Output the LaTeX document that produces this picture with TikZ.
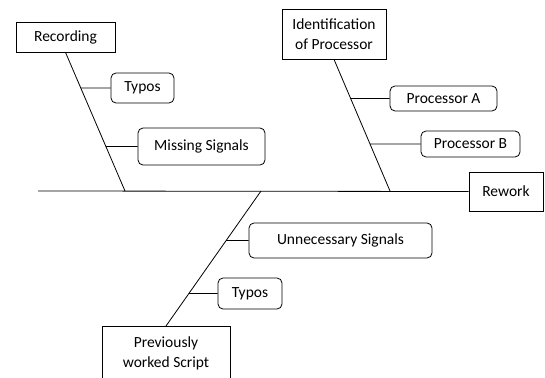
\documentclass[tikz,border=0pt]{standalone}
\usepackage{fontspec}
\setmainfont{Carlito}
\begin{document}
\begin{tikzpicture}[x=1pt,y=-1pt,
    cause/.style={draw,line width=0.8pt,inner sep=0pt,align=center,font=\fontsize{15.5}{20}\selectfont},
    sub/.style={cause,rounded corners=5pt}]
    \useasboundingbox (0,0) rectangle (545,377);
    \node [cause,minimum width=99pt,minimum height=30pt] (rec) at (65.5,37) {Recording};
    \node [cause,minimum width=104pt,minimum height=50pt] (ident) at (334,34) {Identification\\of Processor};
    \node [cause,minimum width=128pt,minimum height=54pt,anchor=north] (prev) at (166,326) {Previously\\worked Script};
    \node [cause,minimum width=74pt,minimum height=39pt] (rework) at (506,191.5) {Rework};
    \node [sub,minimum width=63pt,minimum height=30pt] (typa) at (142.5,88) {Typos};
    \node [sub,minimum width=127pt,minimum height=37pt] (miss) at (201.5,146.5) {Missing Signals};
    \node [sub,minimum width=107pt,minimum height=25pt] (proca) at (443.5,98.5) {Processor A};
    \node [sub,minimum width=99pt,minimum height=26pt] (procb) at (470.5,144) {Processor B};
    \node [sub,minimum width=183pt,minimum height=35pt] (unnec) at (340.5,240.5) {Unnecessary Signals};
    \node [sub,minimum width=64pt,minimum height=31pt] (typb) at (250,293.5) {Typos};
    \coordinate (tail) at (38,191);
    \coordinate (recend) at (125,191);
    \coordinate (identend) at (390,191);
    \coordinate (prevend) at (261,191);
    \coordinate (typa-j) at (intersection of rec.south--recend and typa.west--typa.east);
    \coordinate (miss-j) at (intersection of rec.south--recend and miss.west--miss.east);
    \coordinate (proca-j) at (intersection of ident.south--identend and proca.west--proca.east);
    \coordinate (procb-j) at (intersection of ident.south--identend and procb.west--procb.east);
    \coordinate (unnec-j) at (intersection of prev.north--prevend and unnec.west--unnec.east);
    \coordinate (typb-j) at (intersection of prev.north--prevend and typb.west--typb.east);
    \draw [line width=0.8pt] (tail) -- (rework.west);
    \draw [line width=0.8pt] (rec.south) -- (recend);
    \draw [line width=0.8pt] (ident.south) -- (identend);
    \draw [line width=0.8pt] (prev.north) -- (prevend);
    \foreach \b in {typa,miss,proca,procb,unnec,typb}
    \draw [line width=0.8pt] (\b.west) -- (\b-j);
\end{tikzpicture}
\end{document}
